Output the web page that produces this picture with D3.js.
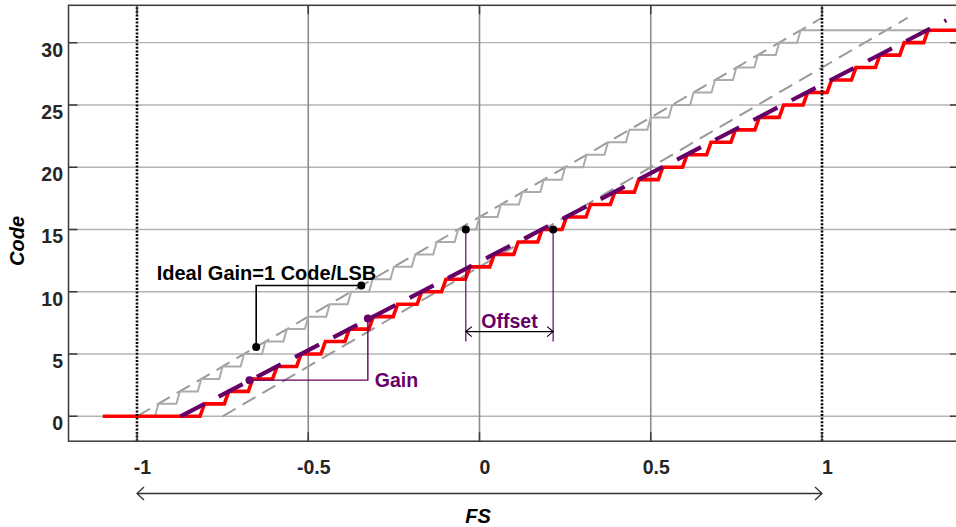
<!DOCTYPE html>
<html>
<head>
<meta charset="utf-8">
<script src="https://cdn.jsdelivr.net/npm/d3@7"></script>
<style>
  body { margin: 0; background: #fff; }
  svg { display: block; font-family: "Liberation Sans", Arial, sans-serif; }
</style>
</head>
<body>
<svg id="chart" width="956" height="527"></svg>
<script>
// Axis ticks
const xTicks = [-1, -0.5, 0, 0.5, 1];
const yTicks = [0, 5, 10, 15, 20, 25, 30];

// Ideal ADC: input (FS) at which each code 1..31 is reached
const idealSteps = [-0.9375, -0.875, -0.8125, -0.75, -0.6875, -0.625, -0.5625, -0.5,
  -0.4375, -0.375, -0.3125, -0.25, -0.1875, -0.125, -0.0625, 0, 0.0625, 0.125, 0.1875,
  0.25, 0.3125, 0.375, 0.4375, 0.5, 0.5625, 0.625, 0.6875, 0.75, 0.8125, 0.875, 0.9375];
// Actual ADC (offset + gain error): transitions for codes 1..31
const actualSteps = [-0.803, -0.732, -0.662, -0.591, -0.521, -0.450, -0.380, -0.310,
  -0.239, -0.169, -0.098, -0.028, 0.043, 0.113, 0.183, 0.254, 0.324, 0.395, 0.465,
  0.535, 0.606, 0.676, 0.747, 0.817, 0.888, 0.958, 1.028, 1.099, 1.169, 1.240, 1.310];
const idealStart = -1, actualStart = -1.1, stairEnd = 1.4;

// Straight reference lines [x, code]
const idealLine = [[-1, 0], [1, 32]];
const shiftedLine = [[-0.75, 0], [1.25, 32]];
const fitLine = [[-0.873, 0], [1.363, 31.8]];

// Annotation markers [x, code]
const idealDots = [[-0.652, 5.57], [-0.345, 10.5]];
const gainDots = [[-0.6715, 2.9], [-0.326, 7.86]];
const offsetDots = [[-0.04, 15], [0.215, 15]];
const offsetFoot = 6.0, offsetArrowY = 6.8;
const fsRange = [-1, 1];

const purple = "#660066";
const svg = d3.select("#chart");
const x = d3.scaleLinear().domain([-1.2, 1.4]).range([68.5, 959]);
const y = d3.scaleLinear().domain([-2, 33]).range([441.2, 5.3]);
const [x0, x1] = x.range(), [y0, y1] = y.range();

// Grid
svg.append("g").selectAll("line").data(yTicks).join("line")
  .attr("x1", x0).attr("x2", x1).attr("y1", d => y(d)).attr("y2", d => y(d))
  .attr("stroke", "#b4b4b4").attr("stroke-width", 1.4);
svg.append("g").selectAll("line").data(xTicks.filter(d => Math.abs(d) < 1)).join("line")
  .attr("x1", d => x(d)).attr("x2", d => x(d)).attr("y1", y0).attr("y2", y1)
  .attr("stroke", "#8c8c8c").attr("stroke-width", 1.6);

const line = d3.line().x(d => x(d[0])).y(d => y(d[1]));

// Staircase builder: a short slanted riser ends on each transition
function stairs(start, steps, w) {
  const pts = [[start, 0]];
  steps.forEach((s, i) => { pts.push([s - w, i]); pts.push([s, i + 1]); });
  pts.push([stairEnd, steps.length]);
  return pts;
}

// Ideal dashed lines
[idealLine, shiftedLine].forEach(l => {
  svg.append("path").attr("d", line(l)).attr("fill", "none")
    .attr("stroke", "#9a9a9a").attr("stroke-width", 2).attr("stroke-dasharray", "15,8");
});
// Ideal staircase
svg.append("path").attr("d", line(stairs(idealStart, idealSteps, 0.01)))
  .attr("fill", "none").attr("stroke", "#ababab").attr("stroke-width", 2);
// Actual staircase
svg.append("path").attr("d", line(stairs(actualStart, actualSteps, 0.013)))
  .attr("fill", "none").attr("stroke", "#ff0000").attr("stroke-width", 3.6)
  .attr("stroke-linejoin", "miter");
// Fitted line
svg.append("path").attr("d", line(fitLine)).attr("fill", "none")
  .attr("stroke", purple).attr("stroke-width", 4.2).attr("stroke-dasharray", "27,16");

// +/-1 FS dotted markers
svg.append("g").selectAll("line").data(fsRange).join("line")
  .attr("x1", d => x(d)).attr("x2", d => x(d)).attr("y1", y0).attr("y2", y1)
  .attr("stroke", "#000").attr("stroke-width", 2.6).attr("stroke-dasharray", "2,1.6");

// Ideal gain annotation
const [i1, i2] = idealDots;
svg.append("path").attr("d", line([i1, [i1[0], i2[1]], i2])).attr("fill", "none")
  .attr("stroke", "#000").attr("stroke-width", 1.6);
svg.append("g").selectAll("circle").data(idealDots).join("circle")
  .attr("cx", d => x(d[0])).attr("cy", d => y(d[1])).attr("r", 4).attr("fill", "#000");
svg.append("text").attr("x", x(i1[0]) - 99.5).attr("y", y(i2[1]) - 6)
  .attr("font-size", 20).attr("font-weight", "bold").attr("fill", "#000")
  .text("Ideal Gain=1 Code/LSB");

// Gain annotation
const [g1, g2] = gainDots;
svg.append("path").attr("d", line([g1, [g2[0], g1[1]], g2])).attr("fill", "none")
  .attr("stroke", purple).attr("stroke-width", 1.4);
svg.append("g").selectAll("circle").data(gainDots).join("circle")
  .attr("cx", d => x(d[0])).attr("cy", d => y(d[1])).attr("r", 4).attr("fill", purple);
svg.append("text").attr("x", x(g2[0]) + 7).attr("y", y(g1[1]) + 7)
  .attr("font-size", 19.5).attr("font-weight", "bold").attr("fill", purple).text("Gain");

// Offset annotation
svg.append("g").selectAll("line").data(offsetDots).join("line")
  .attr("x1", d => x(d[0])).attr("x2", d => x(d[0]))
  .attr("y1", d => y(d[1])).attr("y2", y(offsetFoot))
  .attr("stroke", purple).attr("stroke-width", 1.2);
svg.append("g").selectAll("circle").data(offsetDots).join("circle")
  .attr("cx", d => x(d[0])).attr("cy", d => y(d[1])).attr("r", 4).attr("fill", "#000");

function doubleArrow(xa, xb, yy, head, half, color, sw) {
  const g = svg.append("g").attr("fill", "none").attr("stroke", color).attr("stroke-width", sw);
  g.append("line").attr("x1", xa).attr("x2", xb).attr("y1", yy).attr("y2", yy);
  g.append("path").attr("d", `M${xa + head},${yy - half}L${xa},${yy}L${xa + head},${yy + half}`);
  g.append("path").attr("d", `M${xb - head},${yy - half}L${xb},${yy}L${xb - head},${yy + half}`);
}
const ox1 = x(offsetDots[0][0]), ox2 = x(offsetDots[1][0]);
doubleArrow(ox1, ox2, y(offsetArrowY), 6, 5, "#000", 1.2);
svg.append("text").attr("x", (ox1 + ox2) / 2).attr("y", y(offsetArrowY) - 3.5)
  .attr("text-anchor", "middle").attr("font-size", 19.5).attr("font-weight", "bold")
  .attr("fill", purple).text("Offset");

// Axes box and inward ticks
const axisColor = "#3a3a3a";
svg.append("rect").attr("x", x0).attr("y", y1).attr("width", x1 - x0).attr("height", y0 - y1)
  .attr("fill", "none").attr("stroke", axisColor).attr("stroke-width", 1.5);
const tk = 9;
svg.append("g").selectAll("path").data(yTicks).join("path")
  .attr("d", d => `M${x0},${y(d)}h${tk}M${x1},${y(d)}h${-tk}`)
  .attr("stroke", axisColor).attr("stroke-width", 1.5);
svg.append("g").selectAll("path").data(xTicks).join("path")
  .attr("d", d => `M${x(d)},${y0}v${-tk}M${x(d)},${y1}v${tk}`)
  .attr("stroke", axisColor).attr("stroke-width", 1.5);

// Tick labels
svg.append("g").selectAll("text").data(yTicks).join("text")
  .attr("x", 63).attr("y", d => y(d) + 14).attr("text-anchor", "end")
  .attr("font-size", 19.5).attr("font-weight", "bold").attr("fill", "#262626").text(d => d);
svg.append("g").selectAll("text").data(xTicks).join("text")
  .attr("x", d => x(d) + 5.5).attr("y", 474).attr("text-anchor", "middle")
  .attr("font-size", 19.5).attr("font-weight", "bold").attr("fill", "#262626").text(d => d);

// FS range arrow and axis titles
doubleArrow(x(fsRange[0]), x(fsRange[1]), 493.5, 7, 6.5, "#333", 1.3);
svg.append("text").attr("x", 478).attr("y", 523).attr("text-anchor", "middle")
  .attr("font-size", 20).attr("font-weight", "bold").attr("font-style", "italic")
  .attr("fill", "#000").text("FS");
svg.append("text").attr("transform", "translate(24,241) rotate(-90)")
  .attr("text-anchor", "middle").attr("font-size", 20).attr("font-weight", "bold")
  .attr("font-style", "italic").attr("fill", "#000").text("Code");
</script>
</body>
</html>
